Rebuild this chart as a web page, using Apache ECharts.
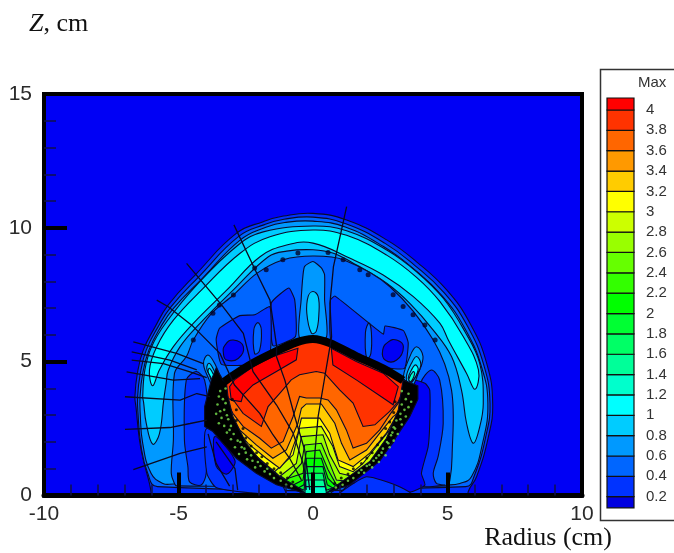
<!DOCTYPE html>
<html><head><meta charset="utf-8">
<style>html,body{margin:0;padding:0;background:#fff;overflow:hidden}#c{width:674px;height:553px}</style>
<script src="https://cdn.jsdelivr.net/npm/echarts@6/dist/echarts.min.js"></script>
</head><body><div id="c"></div>
<script>
// ---- legend ----
const legendLows  = [0.09,0.2,0.4,0.6,0.8,1,1.2,1.4,1.6,1.8,2,2.2,2.4,2.6,2.8,3,3.2,3.4,3.6,3.8,4];
const legendHighs = [0.2,0.4,0.6,0.8,1,1.2,1.4,1.6,1.8,2,2.2,2.4,2.6,2.8,3,3.2,3.4,3.6,3.8,4,4.118];
const legendColors = ['#0000e0','#0033ff','#0066ff','#0099ff','#00ccff','#00ffff','#00ffcc','#00ff99','#00ff66','#00ff33','#00ff00','#33ff00','#66ff00','#99ff00','#ccff00','#ffff00','#ffcc00','#ff9900','#ff6600','#ff3300','#ff0000'];
// ---- dome contours, [radius, z] in cm ----
const dome02 = [[-6.02,-.3],[-6.02,.1],[-6.08,.45],[-6.3,1.3],[-6.45,2.07],[-6.58,3.3],[-6.62,3.69],[-6.53,4.56],[-6.31,5.43],[-5.87,6.3],[-5.38,7.12],[-4.32,8.3],[-2.84,9.8],[-1.85,10.23],[-1.1,10.44],[0,10.54],[1.25,10.29],[2.74,9.55],[3.85,8.73],[4.97,7.68],[5.84,6.43],[6.46,4.93],[6.68,3.44],[6.52,2.19],[6.08,.7],[5.77,.14],[5.77,-.3]];
const dome04 = [[-5.78,.33],[-6.15,.85],[-6.4,1.9],[-6.5,3],[-6.52,3.69],[-6.42,4.56],[-6.2,5.43],[-5.76,6.3],[-5.28,7.05],[-4.22,8.2],[-2.76,9.68],[-1.8,10.12],[-1.08,10.32],[0,10.4],[1.22,10.15],[2.68,9.42],[3.78,8.6],[4.88,7.57],[5.74,6.33],[6.35,4.87],[6.58,3.44],[6.42,2.19],[6,.75],[5.68,.33]];
const dome06 = [[-5.2,.43],[-5.58,.45],[-6.02,.83],[-6.33,1.95],[-6.42,3],[-6.43,3.69],[-6.33,4.56],[-6.1,5.43],[-5.66,6.3],[-5.18,7],[-4.12,8.1],[-2.7,9.55],[-1.75,10.02],[-1.05,10.2],[0,10.25],[1.2,10.03],[2.62,9.3],[3.72,8.48],[4.8,7.46],[5.64,6.25],[6.26,4.82],[6.5,3.44],[6.3,1.94],[5.89,.7],[5.46,.45],[4.97,.4]];
const band08 = [[-5.96,1.92],[-6.2,2.7],[-6.3,3.5],[-6.33,3.69],[-6.25,4.69],[-6,5.56],[-5.44,6.49],[-4.26,7.93],[-2.78,9.36],[-1.85,9.85],[0,10.07],[1.25,9.89],[2.74,9.17],[3.85,8.36],[4.85,7.36],[5.65,6.12],[6.2,4.93],[6.33,3.44],[6.2,2.57],[5.96,1.95],[5.71,2.69],[5.52,3.94],[5.15,5.19],[4.47,6.18],[3.6,7.18],[2.74,7.93],[1.62,8.61],[.76,9.05],[0,9.18],[-.98,9.13],[-1.66,8.92],[-2.96,7.68],[-4.2,6.43],[-4.94,5.56],[-5.38,4.69],[-5.46,4.19],[-5.55,3.57],[-5.71,2.3]];
const band10 = [[-5.96,4.1],[-6.08,4.69],[-5.81,5.56],[-5.19,6.55],[-4.14,7.68],[-2.71,9.05],[-1.6,9.67],[0,9.92],[1.25,9.72],[2.74,8.98],[3.85,8.15],[4.72,7.24],[5.59,5.93],[6.15,4.69],[6.02,3.97],[5.71,4.56],[5.03,5.81],[4.72,6.43],[3.73,7.43],[2.61,8.24],[1.38,8.86],[0,9.43],[-.98,9.36],[-1.97,8.92],[-3.2,7.68],[-4.45,6.43],[-5.19,5.56],[-5.71,4.69]];
const inner06 = [[-5.07,.36],[-5.15,.45],[-5.27,.83],[-5.19,2.07],[-5.15,4.56],[-4.7,5.2],[-4.45,5.81],[-3.77,6.8],[-2.96,7.49],[-2.09,8.3],[-1.1,8.81],[0,8.95],[1.13,8.81],[2.86,7.8],[4.47,5.81],[5.15,3.94],[5.17,1.45],[5.09,.58],[4.97,.36]];
const lowerLeft04 = [[-4.71,4.31],[-4.34,4.63],[-4.03,4.31],[-3.9,3],[-3.97,.83],[-4.16,.39],[-4.59,.51],[-4.65,1.07],[-4.78,2.07]];
const lowerRight04 = [[4.4,4.69],[4.71,4.31],[4.84,2.69],[4.65,1.45],[4.47,.83],[4.59,.45],[4.9,.39],[3.9,.39],[3.75,1.5],[3.9,3],[4,4.2]];
const underLeft = [[-3.95,2.5],[-3.95,.85],[-3.6,.3],[-2.3,.1],[-1,.05],[-2,1.5]];
const underLeftCore = [[-3.65,2.2],[-3.6,1.1],[-3.2,.8],[-2.9,1.3]];
const underRight = [[4.16,4.19],[4.34,3.94],[4.34,2.69],[4.28,1.82],[4.03,.83],[4.16,.39],[3.6,.12],[2.6,.05],[1,.05],[3,2],[3.6,4.3]];
const skirtRight = [[1,.06],[1.5,.45],[2,.7],[3,.42],[3.6,.12],[3.6,.06]];
const patchCenterLeft = [[-.9,7.75],[-.68,7.31],[-.65,5.94],[-1.49,5.6],[-1.55,7.19]];
const patchLeft = [[-1.6,7.05],[-2.17,6.75],[-2.72,6.72],[-3.47,6.25],[-3.6,5.82],[-3.4,4.9],[-2.2,4.9],[-1.6,5.3]];
const patchRight = [[.82,7.45],[2.61,6.03],[2.68,6.33],[3.36,6.16],[3.54,5.7],[3.4,4.75],[2.6,4.8],[.7,5.7],[.65,7.3]];
const kidneyLeft = [[-3.27,5.62],[-2.96,5.81],[-2.59,5.56],[-2.78,5.12],[-3.21,5.06],[-3.33,5.31]];
const kidneyRight = [[3.11,5.81],[3.36,5.56],[3.11,5.06],[2.68,5.06],[2.59,5.43],[2.8,5.74]];
const fingerLeft = [[-2.05,6.46],[-1.92,6.19],[-1.99,5.4],[-2.17,5.3],[-2.2,6.19]];
const fingerRight = [[2.08,6.44],[2.17,6.1],[2.15,5.3],[2,5.1],[1.95,6.1]];
const stemOuter = [[-.31,8.56],[0,8.74],[.31,8.5],[.43,8.25],[.43,7.31],[.49,5.9],[-.5,5.9],[-.44,7.31],[-.37,8.25]];
const stemInner = [[0,7.62],[.19,7.44],[.22,6.81],[.12,6.13],[-.06,6.07],[-.23,6.81],[-.18,7.44]];
const sideRight06 = [[3.85,5.56],[4.09,5.19],[3.91,4.56],[3.6,3.94],[3.35,4.31],[3.6,5.19]];
const sideRight08 = [[3.85,5.19],[4.01,4.88],[3.78,4.38],[3.56,4.13],[3.47,4.44],[3.66,4.94]];
const sideRight10 = [[3.81,4.88],[3.91,4.69],[3.66,4.25],[3.54,4.38],[3.66,4.69]];
const sideRight12 = [[3.72,4.63],[3.78,4.56],[3.64,4.25],[3.56,4.34]];
const sideLeft06 = [[-3.91,5.25],[-3.66,4.94],[-3.47,4.38],[-3.66,4],[-3.91,4.44],[-4.07,4.94]];
const sideLeft08 = [[-3.87,4.94],[-3.72,4.75],[-3.54,4.25],[-3.66,4.07],[-3.85,4.5],[-3.95,4.75]];
const sideLeft10 = [[-3.85,4.75],[-3.72,4.56],[-3.56,4.19],[-3.66,4.09],[-3.81,4.44],[-3.9,4.63]];
// ---- hot core: lower edge of every level, left to right ----
const coreRouteRight = [[.8,.2],[1.3,.5],[2.2,1.12],[2.85,2.1],[3.3,3.2],[3.5,4.25]];
const coreRouteTop = [[3.35,4.32],[2.6,4.75],[1.62,5.2],[.62,5.7],[0,5.82],[-.62,5.7],[-1.49,5.32],[-2.23,4.95],[-2.98,4.45],[-3.3,4.25]];
const coreRouteLeft = [[-3.3,3.7],[-3.15,2.95],[-2.65,1.95],[-2.1,1.25],[-1.3,.62],[-.5,.15]];
const coreBase = [[-.33,0],[.53,0]];
const edge14 = [[-.3,.33],[.44,.33]];
const edge16 = [[-.3,.1],[-.26,.58],[.4,.58],[.5,.1]];
const edge18 = [[-.33,.2],[-.28,.83],[.37,.83],[.5,.2]];
const edge20 = [[-.6,.25],[-.34,.4],[-.25,1.08],[.37,1.08],[.53,.4],[.87,.21]];
const edge22 = [[-1.2,.48],[-.74,.39],[-.37,.58],[-.25,1.39],[.31,1.39],[.56,.64],[.93,.27],[1.49,.46]];
const edge24 = [[-1.75,.8],[-1.11,.58],[-.37,.83],[-.25,1.64],[.25,1.7],[.56,.96],[.87,.4],[1.37,.46],[1.86,.89]];
const edge26 = [[-2,1.05],[-1.43,.89],[-.99,.58],[-.43,1.2],[-.31,1.89],[.31,1.95],[.62,1.2],[.87,.58],[1.37,.52],[2.11,1.08]];
const edge28 = [[-2.3,1.35],[-1.74,1.2],[-1.24,.71],[-.62,1.2],[-.43,2.2],[.37,2.27],[.62,1.52],[.99,.83],[1.49,.71],[2.11,1.2],[2.73,2.08]];
const edge30 = [[-2.5,1.8],[-2.23,1.58],[-1.43,.89],[-.74,1.52],[-.5,2.51],[.31,2.58],[.74,1.83],[.99,1.08],[1.49,.89],[1.86,1.2],[2.36,1.83],[2.85,2.45]];
const edge32 = [[-2.8,2.4],[-2.42,1.95],[-1.74,1.39],[-1.24,1.02],[-.87,1.45],[-.56,2.33],[-.43,2.89],[.25,2.89],[.62,2.33],[.93,1.33],[1.49,1.08],[2.11,1.58],[2.73,2.33],[3,2.8]];
const edge34 = [[-2.95,2.85],[-2.73,2.45],[-2.11,1.89],[-1.49,1.39],[-.99,1.7],[-.56,2.7],[-.43,3.26],[-.25,3.42],[.31,3.42],[.81,2.7],[1.06,1.95],[1.37,1.33],[1.99,1.7],[2.48,2.33],[2.98,2.95]];
const edge36 = [[-2.98,3.07],[-2.6,2.58],[-1.98,2.14],[-1.55,1.77],[-1.11,2.02],[-.74,2.95],[-.5,3.7],[-.25,3.64],[.25,3.64],[.56,3.57],[.87,3.2],[1.24,2.45],[1.49,1.77],[1.99,1.95],[2.48,2.45],[2.85,3.01],[3.17,3.45]];
const edge38 = [[-2.92,3.51],[-2.6,3.07],[-1.92,2.58],[-1.67,3.32],[-1.18,3.88],[-.81,4.32],[-.5,4.51],[.12,4.63],[.43,4.57],[.99,3.95],[1.49,3.45],[1.86,2.58],[2.3,2.64],[2.85,3.14],[3.17,3.51]];
const redLeft = [[-3.1,4.07],[-2.92,4.32],[-2.23,4.82],[-1.49,5.19],[-.56,5.5],[-.62,5.07],[-1.36,4.63],[-2.23,4.13],[-2.6,3.76],[-2.67,3.51],[-3.04,3.57]];
const redRight = [[.68,5.5],[1.61,5.01],[2.61,4.57],[3.17,4.07],[2.98,3.39],[2.61,3.64],[1.61,4.32],[.74,4.88]];
// ---- black shock front ----
const shockLower = [[-3.35,4.32],[-3.6,4.76],[-3.78,4.32],[-4.03,3.32],[-4.03,2.58],[-3.72,2.39],[-3.41,2.02],[-2.85,1.39],[-2.11,.83],[-1.36,.4],[-.37,.1],[-.31,.1],[-.5,.27],[-1.24,.71],[-1.98,1.33],[-2.48,1.95],[-2.98,2.95],[-3.16,3.7],[-3.22,4.2]];
const shockLowerRight = [[3.35,4.32],[3.9,4.1],[3.9,3.6],[3.6,2.95],[3.1,2.2],[2.48,1.28],[1.37,.4],[.5,.1],[1.24,.64],[2.11,1.27],[2.73,2.14],[3.17,3.2]];
const shockUpper = [[-3.3,4.25],[-2.98,4.48],[-2.23,4.95],[-1.49,5.33],[-.62,5.72],[0,5.85],[.62,5.7],[1.62,5.2],[2.6,4.75],[3.35,4.3]];
const sparksGreen = [[-3.45,3.9],[-3.35,3.6],[-3.55,3.4],[-3.3,3.2],[-3.6,3.05],[-3.4,2.9],[-3.15,2.85],[-3.3,2.6],[-3.05,2.6],[-3.2,2.35],[-2.95,2.3],[-3.05,2.1],[-2.8,2.05],[-2.9,1.8],[-2.65,1.8],[-2.75,1.55],[-2.5,1.6],[-2.45,1.35],[-2.25,1.3],[-2.15,1.05],[-1.95,1.1],[-1.8,.9],[-1.6,.8],[-1.45,.65],[-1.2,.55],[-1,.4],[-.8,.35],[-3.25,4],[-3.5,3.7],[-3.25,3.45],[-3.45,3.15],[-3.2,3],[-3.5,2.7],[-3.1,2.45],[-2.7,2],[-2.55,1.75],[-2.3,1.5],[-2.05,1.25],[-1.7,1],[3.3,3.9],[3.45,3.6],[3.3,3.4],[3.55,3.3],[3.25,3.05],[3.45,2.95],[3.1,2.8],[3.3,2.65],[3,2.55],[3.15,2.3],[2.9,2.25],[3,2.05],[2.75,2],[2.85,1.8],[2.6,1.75],[2.7,1.5],[2.45,1.5],[2.45,1.25],[2.25,1.3],[2.2,1.05],[2,1.1],[1.9,.85],[1.7,.85],[1.5,.65],[1.3,.55],[1.1,.4],[.85,.3],[3.55,3.8],[3.65,3.5],[3.4,3.2],[3.25,2.85],[3.05,2.5],[2.95,2.35],[2.8,1.95],[2.55,1.6],[2.35,1.4],[2.1,1.15],[1.8,.95]];
const sparksBlack = [[-3,3.6],[-2.85,3.2],[-2.85,2.8],[-2.6,2.5],[-2.5,2.15],[-2.3,1.85],[-2.1,1.6],[-1.9,1.45],[-1.7,1.2],[-1.45,1],[-1.2,.85],[-.95,.65],[-.75,.5],[3.05,3.5],[3,3.1],[2.85,2.75],[2.7,2.5],[2.55,2.15],[2.4,1.9],[2.2,1.6],[2,1.4],[1.8,1.2],[1.5,1],[1.3,.8],[1.05,.65],[.8,.45]];
const ringMarks = [[-2.17,8.5],[-1.74,8.43],[-1.12,8.81],[-.56,9.06],[.56,9.08],[1.12,8.81],[1.74,8.43],[2.05,8.25],[2.98,7.5],[3.35,7.06],[3.72,6.75],[-3.72,6.81],[-3.48,7.12],[-4.45,5.81],[-2.96,7.49],[4.54,5.81],[4.16,6.37]];
// ---- black trajectories ----
const tracks = [
 [[-2.94,10.11],[-2.09,8.3],[-1.6,7.3],[-1.35,5.56],[-1.36,5.19],[-1.05,4.32],[-.68,2.95],[-.31,1.7],[-.12,.21]],
 [[-4.7,8.67],[-3.4,7.12],[-2.59,6.06],[-2.23,4.63],[-1.36,3.39],[-.74,2.33],[-.37,1.2],[-.25,.21]],
 [[-5.81,7.3],[-5.38,7.05],[-4.45,6.31],[-3.46,5.31],[-2.92,4.13],[-1.98,3.07],[-1.49,2.27],[-.87,1.39],[-.43,.58]],
 [[1.25,10.79],[.76,8.55],[.63,7.18],[.69,5.93],[.43,4.38],[.19,2.95],[.08,1.7],[0,.5]],
 [[-6.68,5.74],[-5.07,5.31],[-4.08,4.93]],
 [[-6.74,5.37],[-5.32,5.06],[-4.32,4.69]],
 [[-6.74,5.06],[-5.56,4.93],[-4.57,4.62],[-3.95,4.4]],
 [[-6.93,4.62],[-5.19,4.31],[-4.2,4.37]],
 [[-6.99,3.69],[-4.94,3.56],[-4.32,3.81],[-3.83,3.69]],
 [[-6.99,2.47],[-5.32,2.54],[-4.57,2.69],[-3.95,2.82]],
 [[-6.68,.97],[-4.94,1.57],[-3.95,1.82]],
 [[-3.9,2.3],[-3.6,1.2],[-3.1,.35]],
 [[-3.6,2],[-2.9,1],[-2.8,.2]]
];
// ---- axis ticks ----
const radiusTicks = [-10,10];
const zTicks = [0,15];

const C = {a:'#0033ff',b:'#0066ff',c:'#0099ff',d:'#00ccff',e:'#00ffff',bg:'#0000f5'};
const regions = [
 [dome02,C.a,.45],[dome04,C.b,.45],[dome06,C.c,.45],[band08,C.d,.4],[band10,C.e,.4],[inner06,C.b,.35],
 [lowerLeft04,C.a,.3],[lowerRight04,C.a,.3],[underLeft,C.a,.2],[underLeftCore,C.bg,.3],[underRight,C.bg,.2],[skirtRight,C.a,.2],
 [patchCenterLeft,C.a,.15],[patchLeft,C.a,.15],[patchRight,C.a,.15],[kidneyLeft,C.bg,.5],[kidneyRight,C.bg,.5],
 [fingerLeft,C.b,.4],[fingerRight,C.b,.4],[stemOuter,C.c,.2],[stemInner,C.d,.4],
 [sideRight06,C.c,.4],[sideRight08,C.d,.4],[sideRight10,C.e,.4],[sideRight12,'#00ffcc',.4],
 [sideLeft06,C.c,.4],[sideLeft08,C.d,.4],[sideLeft10,C.e,.4]
];
function core(edge){
  const endZ = edge[edge.length-1][1], startZ = edge[0][1];
  return edge.concat(coreRouteRight.filter(p=>p[1]>endZ), coreRouteTop,
                     coreRouteLeft.filter(p=>p[1]>startZ));
}
const coreLevels = [[coreBase,'#00ffcc'],[edge14,'#00ff99'],[edge16,'#00ff66'],[edge18,'#00ff33'],[edge20,'#00ff00'],[edge22,'#33ff00'],[edge24,'#66ff00'],[edge26,'#99ff00'],[edge28,'#ccff00'],[edge30,'#ffff00'],[edge32,'#ffcc00'],[edge34,'#ff9900'],[edge36,'#ff6600'],[edge38,'#ff3300']];
coreLevels.forEach(l=>regions.push([core(l[0]),l[1],0]));
regions.push([redLeft,'#ff0000',0],[redRight,'#ff0000',0],[shockLower,'#000',0],[shockLowerRight,'#000',0]);

const tickText = {color:'#2a2a2a',fontFamily:'Liberation Sans',fontSize:21};
const chart = echarts.init(document.getElementById('c'),null,{renderer:'canvas'});
chart.setOption({
  animation:false,
  backgroundColor:'#fff',
  title:{text:'{i|Z}, cm',left:24,top:6,textStyle:{fontFamily:'Liberation Serif',fontSize:26,fontWeight:'normal',color:'#111',
    rich:{i:{fontFamily:'Liberation Serif',fontStyle:'italic',fontSize:26,color:'#111'}}}},
  graphic:[
    {type:'rect',z:-1,shape:{x:600.5,y:69.5,width:90,height:451},style:{fill:'#fff',stroke:'#333',lineWidth:1.5}},
    {type:'text',x:638,y:75,style:{text:'Max',fontFamily:'Liberation Sans',fontSize:15,fill:'#333'}}
  ],
  grid:[
    {left:44,right:92,top:94,bottom:57.5,show:true,backgroundColor:C.bg,borderColor:'#000',borderWidth:4},
    {left:607,width:27,top:89.65,height:427.4,show:false}
  ],
  xAxis:[
    {type:'value',gridIndex:0,min:radiusTicks[0],max:radiusTicks[1],interval:5,z:6,
     name:'Radius (cm)',nameLocation:'end',nameGap:30,
     nameTextStyle:{fontFamily:'Liberation Serif',fontSize:26,color:'#111',align:'right',verticalAlign:'top',padding:[30,0,0,0]},
     axisLine:{show:true,onZero:false,lineStyle:{color:'#000',width:5}},
     axisTick:{show:true,inside:true,length:23,lineStyle:{color:'#000',width:4}},
     minorTick:{show:true,splitNumber:5,length:11,lineStyle:{color:'#10104a',width:1.5}},
     splitLine:{show:false},minorSplitLine:{show:false},
     axisLabel:Object.assign({margin:8,showMinLabel:true,showMaxLabel:true},tickText)},
    {type:'value',gridIndex:1,min:0,max:1,show:false}
  ],
  yAxis:[
    {type:'value',gridIndex:0,min:zTicks[0],max:zTicks[1],interval:5,z:6,
     axisLine:{show:true,onZero:false,lineStyle:{color:'#000',width:4}},
     axisTick:{show:true,inside:true,length:23,lineStyle:{color:'#000',width:4}},
     minorTick:{show:true,splitNumber:5,length:12,lineStyle:{color:'#10104a',width:1.5}},
     splitLine:{show:false},minorSplitLine:{show:false},
     axisLabel:Object.assign({margin:12,showMinLabel:true,showMaxLabel:true},tickText)},
    {type:'value',gridIndex:1,min:0,max:4.2,interval:.2,position:'right',
     axisLine:{show:false},axisTick:{show:false},splitLine:{show:false},
     axisLabel:{margin:12,color:'#333',fontFamily:'Liberation Sans',fontSize:15,align:'left',
       formatter:v=>(v<.1||v>4.1)?'':String(+v.toFixed(1))}}
  ],
  series:[
    {type:'custom',name:'contours',xAxisIndex:0,yAxisIndex:0,z:2,clip:true,silent:true,
     data:regions.map((r,i)=>[i]),
     renderItem:(params,api)=>{
       const r = regions[params.dataIndex];
       return {type:'polygon',shape:{points:r[0].map(p=>api.coord(p)),smooth:r[2]},
               style:{fill:r[1],stroke:'#0a0a2a',lineWidth:1.1}};
     }},
    {type:'custom',name:'shock front',xAxisIndex:0,yAxisIndex:0,z:3,silent:true,
     data:[[0]],
     renderItem:(params,api)=>({type:'polyline',shape:{points:shockUpper.map(p=>api.coord(p)),smooth:.3},
        style:{fill:'none',stroke:'#000',lineWidth:8,lineJoin:'round'}})},
    {type:'scatter',name:'sparks green',xAxisIndex:0,yAxisIndex:0,z:4,silent:true,symbolSize:2.6,
     itemStyle:{color:'#79e34f'},data:sparksGreen},
    {type:'scatter',name:'sparks black',xAxisIndex:0,yAxisIndex:0,z:4,silent:true,symbolSize:3,
     itemStyle:{color:'#000'},data:sparksBlack},
    {type:'scatter',name:'ring marks',xAxisIndex:0,yAxisIndex:0,z:4,silent:true,symbolSize:5,
     itemStyle:{color:'#04042a'},data:ringMarks},
    ...tracks.map((t,i)=>({type:'line',name:'track'+i,xAxisIndex:0,yAxisIndex:0,z:5,silent:true,showSymbol:false,symbol:'none',
      lineStyle:{color:'#0a0a20',width:1.3},data:t})),
    {type:'custom',name:'legend',xAxisIndex:1,yAxisIndex:1,z:2,silent:true,
     data:legendLows.map((l,i)=>[i]),
     renderItem:(params,api)=>{
       const i = params.dataIndex;
       const a = api.coord([0,legendHighs[i]]), b = api.coord([1,legendLows[i]]);
       return {type:'rect',shape:{x:a[0],y:a[1],width:b[0]-a[0],height:b[1]-a[1]},
               style:{fill:legendColors[i],stroke:'#111',lineWidth:1.2}};
     }}
  ]
});
</script></body></html>
